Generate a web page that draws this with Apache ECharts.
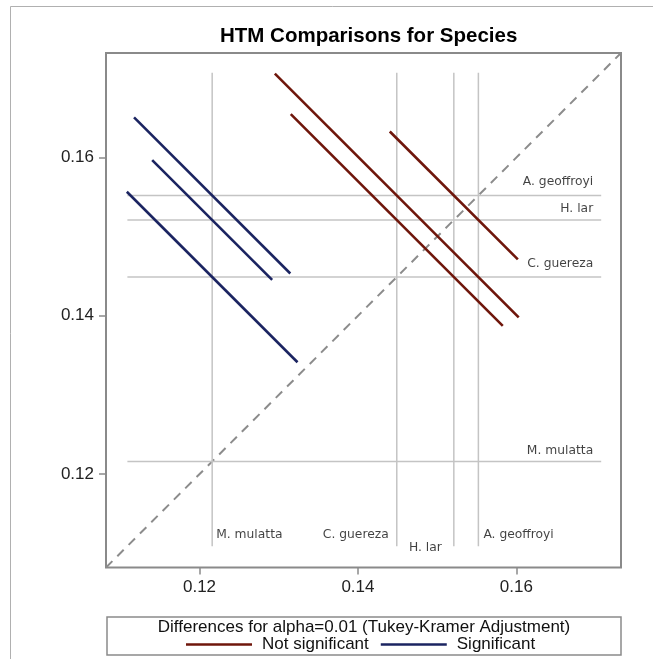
<!DOCTYPE html>
<html>
<head>
<meta charset="utf-8">
<script src="https://cdn.jsdelivr.net/npm/echarts@6/dist/echarts.min.js"></script>
<style>
html,body{margin:0;padding:0;background:#fff;}
#chart{width:653px;height:659px;}
</style>
</head>
<body>
<div id="chart"></div>
<script>
// ---- data ----
const species = ['M. mulatta', 'C. guereza', 'H. lar', 'A. geoffroyi'];
const lsmeans = [0.1216, 0.1449, 0.1521, 0.1552];
// pairs: x-level index, y-level index, half-length of the CI segment (in x units), significance
const pairX = [0, 0, 0, 1, 1, 2];
const pairY = [3, 2, 1, 3, 2, 3];
const pairHalf = [0.00986, 0.00757, 0.01077, 0.01539, 0.01338, 0.00808];
const pairSignificant = [true, true, true, false, false, false];
const tickValues = [0.12, 0.14, 0.16];
const axisRange = [0.1082, 0.1732];
const refRange = [0.1109, 0.1707];

// ---- styles / layout ----
const RED = '#6f160b';
const BLUE = '#1b2461';
const REF = '#c4c4c4';
const FRAME = '#8a8a8a';
const LABEL_FONT = 12.3;
// label placements for the vertical (bottom) reference labels
const vLabelPos = [
  {position: 'right', distance: 4, offset: [0, -11]},
  {position: 'left', distance: 8, offset: [0, -11]},
  {position: 'left', distance: 12, offset: [0, 2]},
  {position: 'right', distance: 5, offset: [0, -11]}
];
const hLabelPos = [
  {offset: [0, -11]},
  {offset: [0, -13]},
  {offset: [0, -11]},
  {offset: [0, -14]}
];

const series = [];

// diagonal
series.push({
  type: 'line', silent: true, symbol: 'none', z: 1,
  data: [[axisRange[0], axisRange[0]], [axisRange[1], axisRange[1]]],
  lineStyle: {color: '#8c8c8c', width: 2, type: [9, 7]}
});

// reference lines
lsmeans.forEach(function (m) {
  series.push({
    type: 'line', silent: true, symbol: 'none', z: 1,
    data: [[refRange[0], m], [refRange[1], m]],
    lineStyle: {color: REF, width: 1.5}
  });
  series.push({
    type: 'line', silent: true, symbol: 'none', z: 1,
    data: [[m, refRange[0]], [m, refRange[1]]],
    lineStyle: {color: REF, width: 1.5}
  });
});

// reference labels (right side)
series.push({
  type: 'scatter', silent: true, symbolSize: 0, z: 3,
  data: lsmeans.map(function (m, i) {
    return {
      value: [refRange[1], m], name: species[i],
      label: {show: true, position: 'left', distance: 8, offset: hLabelPos[i].offset}
    };
  }),
  label: {show: true, formatter: '{b}', fontFamily: 'DejaVu Sans', fontSize: LABEL_FONT, color: '#111'}
});
// reference labels (bottom)
series.push({
  type: 'scatter', silent: true, symbolSize: 0, z: 3,
  data: lsmeans.map(function (m, i) {
    return {
      value: [m, refRange[0]], name: species[i],
      label: {show: true, position: vLabelPos[i].position, distance: vLabelPos[i].distance, offset: vLabelPos[i].offset}
    };
  }),
  label: {show: true, formatter: '{b}', fontFamily: 'DejaVu Sans', fontSize: LABEL_FONT, color: '#111'}
});

// comparison segments
pairX.forEach(function (xi, k) {
  const cx = lsmeans[xi], cy = lsmeans[pairY[k]], h = pairHalf[k];
  const sig = pairSignificant[k];
  series.push({
    type: 'line', name: sig ? 'Significant' : 'Not significant',
    symbol: 'none', z: 4,
    data: [[cx - h, cy + h], [cx + h, cy - h]],
    color: sig ? BLUE : RED,
    lineStyle: {color: sig ? BLUE : RED, width: 2.6}
  });
});

const chart = echarts.init(document.getElementById('chart'), null, {renderer: 'canvas'});
chart.setOption({
  animation: false,
  backgroundColor: '#fff',
  title: {
    text: 'HTM Comparisons for Species',
    left: 215, top: 21,
    textStyle: {fontFamily: 'Liberation Sans', fontWeight: 'bold', fontSize: 20.5, color: '#000'}
  },
  grid: {left: 106, top: 53, right: 32, bottom: 91.5, show: true, borderColor: FRAME, borderWidth: 2, backgroundColor: 'transparent'},
  xAxis: {
    type: 'value', min: axisRange[0], max: axisRange[1],
    axisLine: {show: false},
    axisTick: {show: true, length: 7, customValues: tickValues, lineStyle: {color: FRAME, width: 1.5}},
    axisLabel: {customValues: tickValues, fontFamily: 'Liberation Sans', fontSize: 17, color: '#222', margin: 11,
      formatter: function (v) { return v.toFixed(2); }},
    splitLine: {show: false}
  },
  yAxis: {
    type: 'value', min: axisRange[0], max: axisRange[1],
    axisLine: {show: false},
    axisTick: {show: true, length: 7, customValues: tickValues, lineStyle: {color: FRAME, width: 1.5}},
    axisLabel: {customValues: tickValues, fontFamily: 'Liberation Sans', fontSize: 17, color: '#222', margin: 12,
      formatter: function (v) { return v.toFixed(2); }},
    splitLine: {show: false}
  },
  legend: {
    data: ['Not significant', 'Significant'],
    left: 181, top: 631,
    icon: 'rect', itemWidth: 66, itemHeight: 2.6, itemGap: 12,
    textStyle: {fontFamily: 'Liberation Sans', fontSize: 17, color: '#111', padding: [0, 0, 0, 5]},
    selectedMode: false
  },
  graphic: [
    {type: 'rect', silent: true, shape: {x: 10.5, y: 6.5, width: 700, height: 700}, style: {fill: 'none', stroke: '#b0b0b0', lineWidth: 1}},
    {type: 'rect', silent: true, shape: {x: 107, y: 617, width: 514, height: 38}, style: {fill: 'none', stroke: FRAME, lineWidth: 1.5}},
    {type: 'text', silent: true, x: 364, y: 627, style: {text: 'Differences for alpha=0.01 (Tukey-Kramer Adjustment)', align: 'center', verticalAlign: 'middle', font: '17px "Liberation Sans"', fill: '#111'}}
  ],
  series: series
});
</script>
</body>
</html>
